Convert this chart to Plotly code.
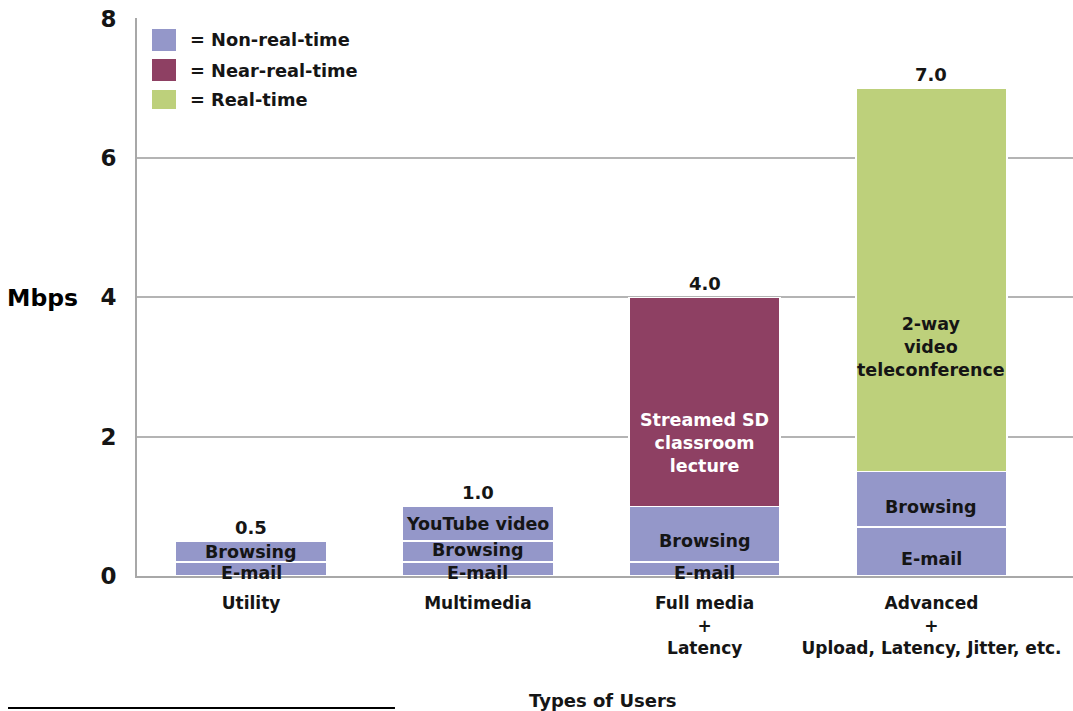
import plotly.graph_objects as go

# ---------------- data ----------------
categories = ["Utility", "Multimedia", "Full media<br>+<br>Latency",
              "Advanced<br>+<br>Upload, Latency, Jitter, etc."]
email = [0.2, 0.2, 0.2, 0.7]
browsing = [0.3, 0.3, 0.8, 0.8]
youtube = [None, 0.5, None, None]
streamed = [None, None, 3.0, None]
video = [None, None, None, 5.5]
totals = [0.5, 1.0, 4.0, 7.0]
total_labels = ["0.5", "1.0", "4.0", "7.0"]

email_text = ["E-mail", "E-mail", "E-mail", "E-mail"]
browsing_text = ["Browsing", "Browsing", "Browsing", "Browsing"]
youtube_text = ["", "YouTube video", "", ""]
streamed_text = ["", "", "Streamed SD<br>classroom<br>lecture", ""]
video_text = ["", "", "", "2-way<br>video<br>teleconference"]

legend_names = ["= Non-real-time", "= Near-real-time", "= Real-time"]
y_ticks = [0, 2, 4, 6, 8]

# ---------------- styles ----------------
C_NRT = "#9497C9"
C_NEAR = "#8E4063"
C_RT = "#BDD07B"
FONT = "DejaVu Sans"
TXT = "#151515"

fig = go.Figure()

series = [
    (email, C_NRT),
    (browsing, C_NRT),
    (youtube, C_NRT),
    (streamed, C_NEAR),
    (video, C_RT),
]
for vals, col in series:
    fig.add_trace(go.Bar(
        x=categories, y=vals, width=0.666,
        marker=dict(color=col, line=dict(color="white", width=1.5)),
        showlegend=False, hoverinfo="skip",
    ))

# segment labels (centred in each segment, with small pixel offsets)
label_sets = [
    (email, email_text, [-4, -4, -4, -7], TXT),
    (browsing, browsing_text, [0, 2, -7, -8], TXT),
    (youtube, youtube_text, [0, 0, 0, 0], TXT),
    (streamed, streamed_text, [0, 0, -41, 0], "white"),
    (video, video_text, [0, 0, 0, -67], TXT),
]
base = [0.0] * len(categories)
for vals, texts, shifts, col in label_sets:
    for i, v in enumerate(vals):
        if v is None:
            continue
        if texts[i]:
            fig.add_annotation(
                x=categories[i], y=base[i] + v / 2, text=texts[i],
                showarrow=False, yshift=shifts[i],
                font=dict(family=FONT, size=17.5, color=col, weight="bold"),
            )
        base[i] += v

# totals above bars
for i, t in enumerate(totals):
    fig.add_annotation(
        x=categories[i], y=t, text=total_labels[i], showarrow=False,
        yanchor="bottom", yshift=1,
        font=dict(family=FONT, size=18, color=TXT, weight="bold"),
    )

# manual legend
leg_cols = [C_NRT, C_NEAR, C_RT]
leg_y = [(0.9803, 0.9409), (0.9265, 0.8871), (0.8710, 0.8369)]
for (y1, y0), col, name in zip(leg_y, leg_cols, legend_names):
    fig.add_shape(type="rect", xref="paper", yref="paper",
                  x0=0.016, x1=0.0417, y0=y0, y1=y1,
                  fillcolor=col, line=dict(width=0))
    fig.add_annotation(xref="paper", yref="paper", x=0.0545, y=(y0 + y1) / 2,
                       xanchor="left", yanchor="middle", text=name,
                       showarrow=False,
                       font=dict(family=FONT, size=17.8, color=TXT, weight="bold"))

# axis titles
fig.add_annotation(xref="paper", yref="paper", x=-0.1405, y=(576 - 298) / 558,
                   xanchor="left", yanchor="middle", text="Mbps", showarrow=False,
                   font=dict(family=FONT, size=23.5, color="black", weight="bold"))
fig.add_annotation(xref="paper", yref="paper", x=(603 - 137) / 936,
                   y=-(700 - 576) / 558, xanchor="center", yanchor="middle",
                   text="Types of Users", showarrow=False,
                   font=dict(family=FONT, size=18, color=TXT, weight="bold"))

# black rule at bottom-left
fig.add_shape(type="line", xref="paper", yref="paper",
              x0=-0.1378, x1=0.2756, y0=-0.2366, y1=-0.2366,
              line=dict(color="black", width=2))

fig.update_layout(
    barmode="stack",
    width=1073, height=711,
    margin=dict(l=137, r=0, t=18, b=135),
    paper_bgcolor="white", plot_bgcolor="white",
    showlegend=False,
    xaxis=dict(
        type="category", range=[-0.503, 3.624],
        showline=True, linecolor="#A8A8A8", linewidth=2,
        showgrid=False, ticks="outside", ticklen=11,
        tickcolor="rgba(0,0,0,0)",
        tickfont=dict(family=FONT, size=17, color=TXT, weight="bold"),
    ),
    yaxis=dict(
        range=[0, 8.01], tickvals=y_ticks,
        showline=True, linecolor="#A8A8A8", linewidth=2,
        showgrid=True, gridcolor="#B4B4B4", gridwidth=2,
        zeroline=False, ticks="outside", ticklen=14,
        tickcolor="rgba(0,0,0,0)",
        tickfont=dict(family=FONT, size=23, color=TXT, weight="bold"),
    ),
)

fig.write_html("out.html")
